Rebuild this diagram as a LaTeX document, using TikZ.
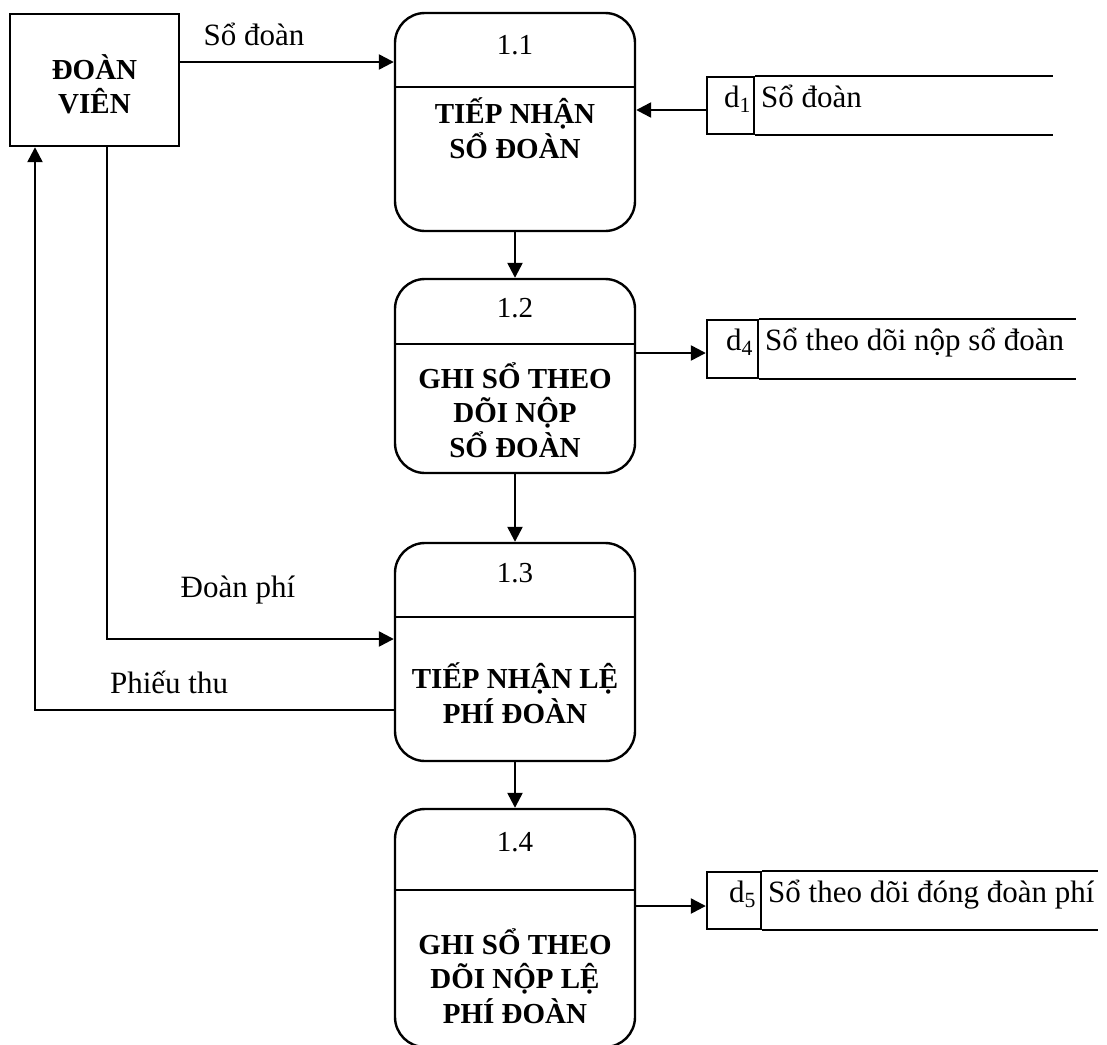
\documentclass[tikz,border=0pt]{standalone}
\usepackage{fontspec}
\setmainfont{Liberation Serif}
\usetikzlibrary{arrows.meta}
\newcommand{\dfdfont}{\linespread{1}\fontsize{31}{35}\selectfont}
\newcommand{\dfdboldfont}{\linespread{1}\fontsize{29}{34.5}\selectfont\bfseries}
\newcommand{\dfdnumfont}{\linespread{1}\fontsize{29}{34}\selectfont}
\tikzset{
    dfd/chart/.style={x=1pt, y=-1pt, line width=2.4pt, font=\dfdfont, every node/.style={align=center}},
    dfd/entity/.style={rectangle, draw, minimum width=169pt, minimum height=132pt, inner sep=0pt, font=\dfdboldfont},
    dfd/process/.style={rectangle, rounded corners=30pt, draw, minimum width=240pt, inner sep=0pt},
    dfd/number/.style={font=\dfdnumfont, inner sep=0pt},
    dfd/title/.style={font=\dfdboldfont, inner sep=0pt},
    dfd/storeid/.style={rectangle, draw, minimum height=57pt, inner sep=0pt},
    dfd/storetext/.style={anchor=base west, inner sep=0pt},
    dfd/arrow/.style={-{Triangle[length=15pt,width=15pt]}, line width=2.4pt},
    dfd/label/.style={anchor=base, inner sep=0pt}
}

\begin{document}
\begin{tikzpicture}[dfd/chart]
    \useasboundingbox (0,0) rectangle (1107,1044);
    \node[dfd/entity] (member) at (94.5,80) {\rule{0pt}{33pt}ĐOÀN\\VIÊN};
    \node[dfd/process, minimum height=218pt] (p11) at (515,122) {};
    \node[dfd/process, minimum height=194pt] (p12) at (515,376) {};
    \node[dfd/process, minimum height=218pt] (p13) at (515,652) {};
    \node[dfd/process, minimum height=238pt] (p14) at (515,928) {};
    \node[dfd/number] (n11) at (515,45) {1.1};
    \node[dfd/number] (n12) at (515,308) {1.2};
    \node[dfd/number] (n13) at (515,573) {1.3};
    \node[dfd/number] (n14) at (515,842) {1.4};
    \draw (p11.west |- 0,87) -- (p11.east |- 0,87);
    \draw (p12.west |- 0,344) -- (p12.east |- 0,344);
    \draw (p13.west |- 0,617) -- (p13.east |- 0,617);
    \draw (p14.west |- 0,890) -- (p14.east |- 0,890);
    \node[dfd/title] (t11) at (515,128) {TIẾP NHẬN\\SỔ ĐOÀN};
    \node[dfd/title] (t12) at (515,410) {GHI SỔ THEO\\DÕI NỘP\\SỔ ĐOÀN};
    \node[dfd/title] (t13) at (515,693) {TIẾP NHẬN LỆ\\PHÍ ĐOÀN};
    \node[dfd/title] (t14) at (515,976) {GHI SỔ THEO\\DÕI NỘP LỆ\\PHÍ ĐOÀN};
    % kho du lieu
    \node[dfd/storeid, minimum width=47pt] (d1) at (730.5,105.5) {};
    \node[dfd/storetext] (d1no) at (723,107) {d\textsubscript{1}};
    \node[dfd/storetext] (d1name) at (760,107) {Sổ đoàn};
    \draw (d1.north east) -- ++(298,0) (d1.south east) -- ++(298,0);
    \node[dfd/storeid, minimum width=51pt, minimum height=58pt] (d4) at (732.5,349) {};
    \node[dfd/storetext] (d4no) at (725,350) {d\textsubscript{4}};
    \node[dfd/storetext] (d4name) at (764,350) {Sổ theo dõi nộp sổ đoàn};
    \draw (d4.north east) -- ++(317,0) (d4.south east) -- ++(317,0);
    \node[dfd/storeid, minimum width=54pt] (d5) at (734,900.5) {};
    \node[dfd/storetext] (d5no) at (728,902) {d\textsubscript{5}};
    \node[dfd/storetext] (d5name) at (767,902) {Sổ theo dõi đóng đoàn phí};
    \draw (d5.north east) -- ++(336,0) (d5.south east) -- ++(336,0);
    % nhan luong
    \node[dfd/label] (lbook) at (254,45) {Sổ đoàn};
    \node[dfd/label] (lfee) at (238,597) {Đoàn phí};
    \node[dfd/label] (lreceipt) at (169,693) {Phiếu thu};
    % luong du lieu
    \draw[dfd/arrow] (member.east |- 0,62) -- (p11.west |- 0,62);
    \draw[dfd/arrow] (d1.west |- 0,110) -- (p11.east |- 0,110);
    \foreach \source/\target in {p11/p12,p12/p13,p13/p14}
        \draw[dfd/arrow] (\source) -- (\target);
    \draw[dfd/arrow] (p12.east |- 0,353) -- (d4.west |- 0,353);
    \draw[dfd/arrow] (p14.east |- 0,906) -- (d5.west |- 0,906);
    \draw[dfd/arrow] (member.south -| 107,0) |- (p13.west |- 0,639);
    \draw[dfd/arrow] (p13.west |- 0,710) -| (member.south -| 35,0);
\end{tikzpicture}
\end{document}
